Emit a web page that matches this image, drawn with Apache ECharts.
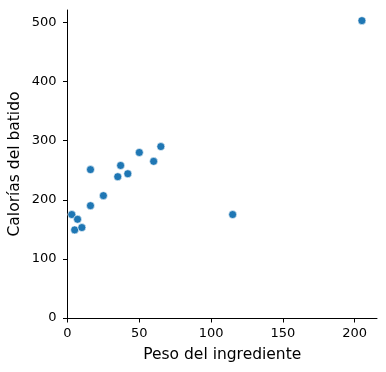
<!DOCTYPE html>
<html><head><meta charset="utf-8">
<script src="https://cdn.jsdelivr.net/npm/echarts@6/dist/echarts.min.js"></script>
<style>html,body{margin:0;padding:0;background:#fff}#c{width:386px;height:372px}</style>
</head><body><div id="c"></div>
<script>
const pesos = [3, 7, 5, 10, 16, 16, 25, 35, 37, 42, 50, 60, 65, 115, 205];
const calorias = [175, 167, 149, 153, 190, 251, 207, 239, 258, 244, 280, 265, 290, 175, 503];
const xTicks = [0, 50, 100, 150, 200];
const yTicks = [0, 100, 200, 300, 400, 500];
const xTitle = 'Peso del ingrediente';
const yTitle = 'Calorías del batido';

const font = 'DejaVu Sans';
const chart = echarts.init(document.getElementById('c'), null, {renderer: 'canvas'});
chart.setOption({
  animation: false,
  grid: {left: 67.5, right: 9, top: 10, bottom: 54, containLabel: false, outerBoundsMode: 'none'},
  xAxis: {
    type: 'value', min: 0, max: 215.5,
    name: xTitle, nameLocation: 'middle', nameGap: 29, nameMoveOverlap: false,
    nameTextStyle: {fontFamily: font, fontSize: 15.5, color: '#000'},
    splitLine: {show: false},
    axisLine: {onZero: false, lineStyle: {color: '#000', width: 1}},
    axisTick: {length: 4.5, lineStyle: {color: '#000'}, customValues: xTicks},
    axisLabel: {fontFamily: font, fontSize: 13, color: '#000', margin: 9.5, customValues: xTicks}
  },
  yAxis: {
    type: 'value', min: 0, max: 521,
    name: yTitle, nameLocation: 'middle', nameGap: 44.5, nameMoveOverlap: false,
    nameTextStyle: {fontFamily: font, fontSize: 15.5, color: '#000'},
    splitLine: {show: false},
    axisLine: {show: true, onZero: false, lineStyle: {color: '#000', width: 1}},
    axisTick: {show: true, length: 4.5, lineStyle: {color: '#000'}, customValues: yTicks},
    axisLabel: {fontFamily: font, fontSize: 13, color: '#000', margin: 11, customValues: yTicks}
  },
  series: [{
    type: 'scatter',
    data: pesos.map((x, i) => [x, calorias[i]]),
    symbolSize: 8,
    itemStyle: {color: '#1f77b4', opacity: 1, borderColor: '#fff', borderWidth: 0.6}
  }]
});
</script></body></html>
